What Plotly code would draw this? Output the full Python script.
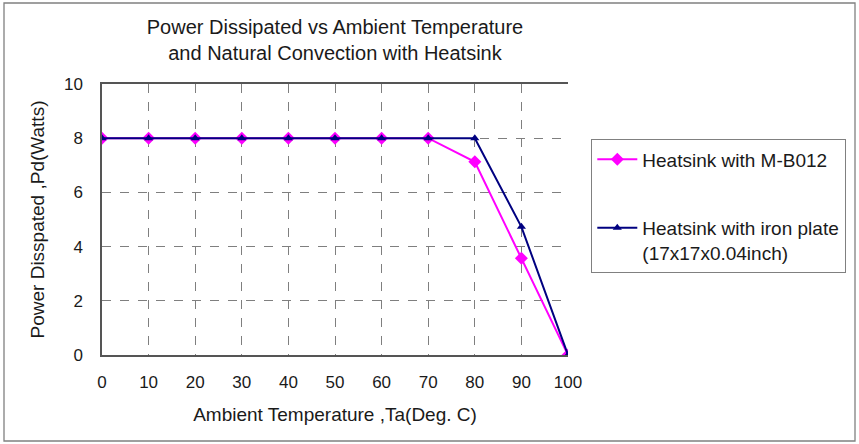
import plotly.graph_objects as go

temps = [0, 10, 20, 30, 40, 50, 60, 70, 80, 90, 100]
mb012 = [8, 8, 8, 8, 8, 8, 8, 8, 7.13, 3.57, 0]
iron = [8, 8, 8, 8, 8, 8, 8, 8, 8, 4.73, 0]
name_mb = "Heatsink with M-B012"
name_iron = "Heatsink with iron plate<br>(17x17x0.04inch)"
title = "Power Dissipated vs Ambient Temperature<br>and Natural Convection with Heatsink"

FONT = "Liberation Sans, Arial, sans-serif"
TXT = "#1a1a1a"

fig = go.Figure()
fig.add_trace(go.Scatter(
    x=temps, y=mb012, name=name_mb, mode="lines+markers",
    line=dict(color="#FF00FF", width=2),
    marker=dict(symbol="diamond", size=10, color="#FF00FF"),
    legendgroup="a"))
fig.add_trace(go.Scatter(
    x=temps, y=iron, name=name_iron, mode="lines+markers",
    line=dict(color="#000080", width=2),
    marker=dict(symbol="triangle-up", size=8, color="#000080"),
    legendgroup="b"))

W, H = 859, 444
L, R, T, B = 102, 291, 84, 89
pw, ph = W - L - R, H - T - B

def px(x):
    return (x - L) / pw

def py(y):
    return (H - B - y) / ph

fig.update_layout(
    width=W, height=H,
    margin=dict(l=L, r=R, t=T, b=B),
    paper_bgcolor="white", plot_bgcolor="white",
    font=dict(family=FONT, size=17, color=TXT),
    title=dict(text=title, x=px(335), xanchor="center", xref="paper",
               y=1 - 34 / H, yanchor="middle",
               font=dict(size=20, color=TXT)),
    showlegend=True,
    legend=dict(x=px(591), y=py(139), xanchor="left", yanchor="top",
                bordercolor="#808080", borderwidth=1.3,
                font=dict(size=19, color=TXT),
                tracegroupgap=41, valign="top",
                itemwidth=40),
    xaxis=dict(range=[0, 100], tickvals=temps, showgrid=True,
               gridcolor="#7f7f7f", griddash="dash", gridwidth=1,
               showline=True, linecolor="#555555", linewidth=1.5, mirror=True,
               zeroline=False, ticks="", ticklabelstandoff=11,
               title=dict(text="Ambient Temperature ,Ta(Deg. C)", standoff=17,
                          font=dict(size=19))),
    yaxis=dict(range=[0, 10], tickvals=[0, 2, 4, 6, 8, 10], showgrid=True,
               gridcolor="#7f7f7f", griddash="dash", gridwidth=1,
               showline=True, linecolor="#555555", linewidth=1.5,
               zeroline=False, ticks="", ticklabelstandoff=14,
               title=dict(text="Power Disspated ,Pd(Watts)", standoff=14,
                          font=dict(size=19))),
)

fig.add_shape(type="rect", xref="paper", yref="paper",
              x0=px(4), x1=px(855), y0=py(441), y1=py(3),
              line=dict(color="#808080", width=1.3), layer="below")

fig.write_html("out.html", config={"displayModeBar": False},
               post_script="document.body.style.margin='0';")
